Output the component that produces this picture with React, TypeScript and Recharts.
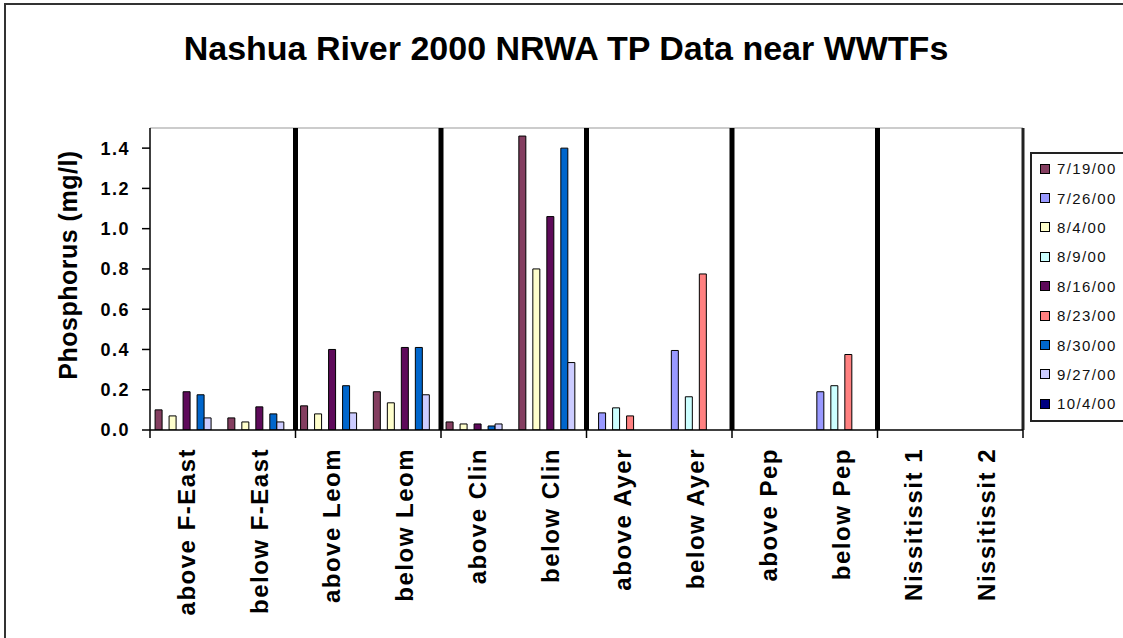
import React from "react";
import {
  BarChart,
  Bar,
  XAxis,
  YAxis,
  ReferenceLine,
} from "recharts";

/* ────────────────────────────────────────── */
/*  Data                                      */
/* ────────────────────────────────────────── */

const sites = [
  "above F-East",
  "below F-East",
  "above Leom",
  "below Leom",
  "above Clin",
  "below Clin",
  "above Ayer",
  "below Ayer",
  "above Pep",
  "below Pep",
  "Nissitissit 1",
  "Nissitissit 2",
];

const d0719 = [0.1, 0.06, 0.12, 0.19, 0.04, 1.46, null, null, null, null, null, null];
const d0726 = [null, null, null, null, null, null, 0.085, 0.395, null, 0.19, null, null];
const d0804 = [0.07, 0.04, 0.08, 0.135, 0.03, 0.8, null, null, null, null, null, null];
const d0809 = [null, null, null, null, null, null, 0.11, 0.165, null, 0.22, null, null];
const d0816 = [0.19, 0.115, 0.4, 0.41, 0.03, 1.06, null, null, null, null, null, null];
const d0823 = [null, null, null, null, null, null, 0.07, 0.775, null, 0.375, null, null];
const d0830 = [0.175, 0.08, 0.22, 0.41, 0.02, 1.4, null, null, null, null, null, null];
const d0927 = [0.06, 0.04, 0.085, 0.175, 0.03, 0.335, null, null, null, null, null, null];
const d1004 = [null, null, null, null, null, null, null, null, null, null, null, null];

const yTicks = [0, 0.2, 0.4, 0.6, 0.8, 1.0, 1.2, 1.4];

// sites that start a new plant group (thick divider on their left edge)
const dividers = ["above Leom", "above Clin", "above Ayer", "above Pep", "Nissitissit 1"];

const series = [
  { key: "s0719", label: "7/19/00", values: d0719, color: "#843e60" },
  { key: "s0726", label: "7/26/00", values: d0726, color: "#9999ff" },
  { key: "s0804", label: "8/4/00", values: d0804, color: "#ffffcc" },
  { key: "s0809", label: "8/9/00", values: d0809, color: "#ccffff" },
  { key: "s0816", label: "8/16/00", values: d0816, color: "#5e0a5a" },
  { key: "s0823", label: "8/23/00", values: d0823, color: "#ff8080" },
  { key: "s0830", label: "8/30/00", values: d0830, color: "#0066cc" },
  { key: "s0927", label: "9/27/00", values: d0927, color: "#ccccff" },
  { key: "s1004", label: "10/4/00", values: d1004, color: "#000080" },
];

const data = sites.map((site, i) => {
  const row: any = { site };
  series.forEach((s) => {
    row[s.key] = s.values[i];
  });
  return row;
});

const FONT = "'Liberation Sans', Arial, Helvetica, sans-serif";

/* ────────────────────────────────────────── */
/*  X tick: rotated label + boundary marks    */
/* ────────────────────────────────────────── */

function SiteTick({ x, y, payload, index }: any) {
  const half = payload?.offset ?? 36.4;
  return (
    <g>
      {index % 2 === 0 && (
        <line x1={x - half} x2={x - half} y1={y} y2={y + 8} stroke="#000" strokeWidth={1.5} />
      )}
      {index === sites.length - 1 && (
        <line x1={x + half} x2={x + half} y1={y} y2={y + 8} stroke="#000" strokeWidth={1.5} />
      )}
      <text
        x={0}
        y={0}
        transform={`translate(${x},${y + 18}) rotate(-90)`}
        textAnchor="end"
        dominantBaseline="central"
        fontFamily={FONT}
        fontWeight="bold"
        fontSize={24}
        letterSpacing={1.5}
        fill="#000"
      >
        {payload.value}
      </text>
    </g>
  );
}

/* ────────────────────────────────────────── */
/*  Chart                                     */
/* ────────────────────────────────────────── */

export default function App() {
  return (
    <div
      style={{
        position: "absolute",
        left: 0,
        top: 0,
        width: 1123,
        height: 638,
        background: "#fff",
        overflow: "hidden",
        fontFamily: FONT,
      }}
    >
      {/* outer chart frame */}
      <div
        style={{
          position: "absolute",
          left: 4,
          top: 3,
          width: 1400,
          height: 800,
          border: "2px solid #333",
        }}
      />

      {/* Title */}
      <div
        style={{
          position: "absolute",
          left: 0,
          width: 1132,
          top: 28,
          textAlign: "center",
          fontSize: 34,
          fontWeight: "bold",
          lineHeight: "40px",
          color: "#000",
        }}
      >
        Nashua River 2000 NRWA TP Data near WWTFs
      </div>

      {/* Y axis title */}
      <div
        style={{
          position: "absolute",
          left: 68,
          top: 265,
          transform: "translate(-50%, -50%) rotate(-90deg)",
          whiteSpace: "nowrap",
          fontSize: 25,
          fontWeight: "bold",
          letterSpacing: 0.5,
          color: "#000",
        }}
      >
        Phosphorus (mg/l)
      </div>

      <div style={{ position: "absolute", left: 0, top: 0 }}>
        <BarChart
          width={1123}
          height={638}
          data={data}
          margin={{ top: 128, right: 100, bottom: 8, left: 90 }}
          barCategoryGap="7%"
          barGap={0}
        >
          <XAxis
            dataKey="site"
            interval={0}
            height={200}
            tickLine={false}
            tickSize={0}
            tickMargin={0}
            axisLine={{ stroke: "#000", strokeWidth: 1.5 }}
            tick={<SiteTick />}
          />
          <YAxis
            width={60}
            domain={[0, 1.5]}
            ticks={yTicks}
            allowDataOverflow
            tickSize={8}
            tickMargin={12}
            tickLine={{ stroke: "#000", strokeWidth: 1.5 }}
            axisLine={{ stroke: "#000", strokeWidth: 1.5 }}
            tickFormatter={(v: number) => v.toFixed(1)}
            tick={{
              fill: "#000",
              fontSize: 18,
              fontWeight: "bold",
              fontFamily: FONT,
              letterSpacing: 1.5,
            }}
          />
          {/* plot frame top */}
          <ReferenceLine y={1.5} stroke="#999" strokeWidth={1} />
          {series.map((s) => (
            <Bar
              key={s.key}
              dataKey={s.key}
              fill={s.color}
              stroke="#000"
              strokeWidth={1}
              isAnimationActive={false}
            />
          ))}
          {dividers.map((d) => (
            <ReferenceLine
              key={d}
              x={d}
              position="start"
              stroke="#000"
              strokeWidth={5}
            />
          ))}
          {/* plot frame right */}
          <ReferenceLine
            x="Nissitissit 2"
            position="end"
            stroke="#222"
            strokeWidth={3}
          />
        </BarChart>
      </div>

      {/* Legend */}
      <div
        style={{
          position: "absolute",
          left: 1030,
          top: 152,
          width: 140,
          height: 266,
          border: "2px solid #222",
          background: "#fff",
        }}
      >
        {series.map((s) => (
          <div
            key={s.key}
            style={{
              height: 29.4,
              display: "flex",
              alignItems: "center",
              paddingLeft: 8,
            }}
          >
            <span
              style={{
                width: 8,
                height: 8,
                border: "1px solid #000",
                background: s.color,
                marginRight: 7,
                flexShrink: 0,
              }}
            />
            <span style={{ fontSize: 15, letterSpacing: 1.4, color: "#111" }}>
              {s.label}
            </span>
          </div>
        ))}
      </div>
    </div>
  );
}
